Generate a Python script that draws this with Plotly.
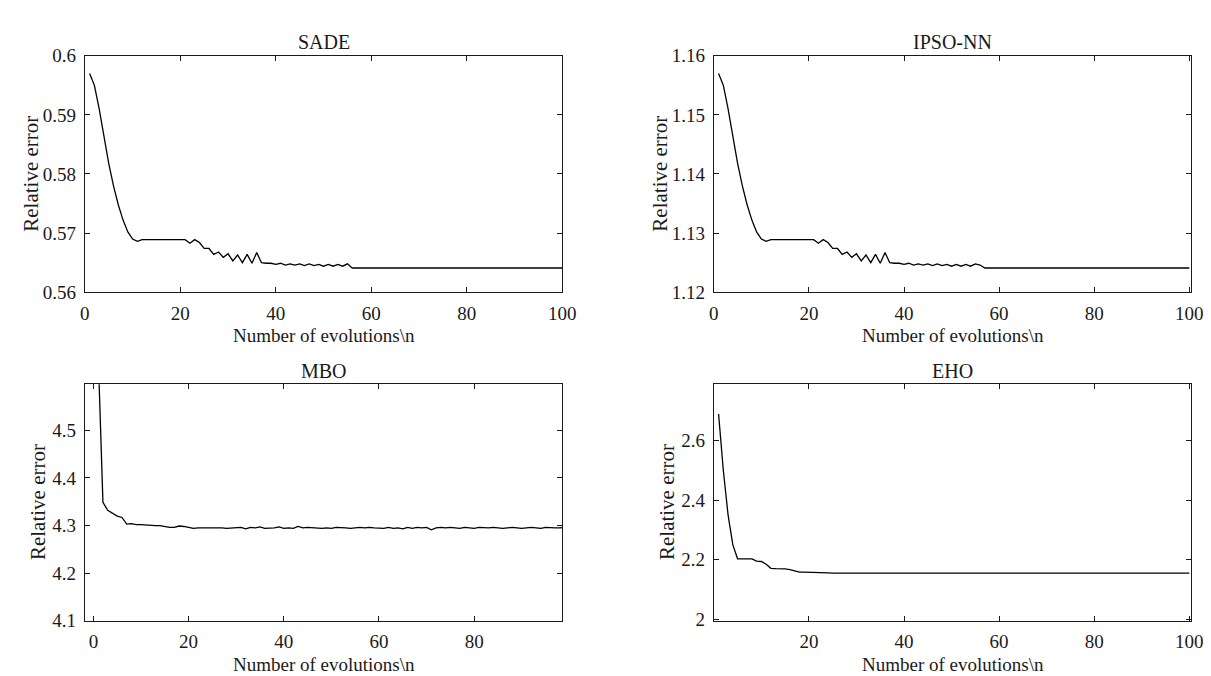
import plotly.graph_objects as go

# ---------------- data ----------------
sade_err = [0.5970, 0.5950, 0.5910, 0.5862, 0.5818, 0.5780, 0.5748, 0.5722, 0.5702, 0.5690,
            0.5686, 0.5689, 0.5689, 0.5689, 0.5689, 0.5689, 0.5689, 0.5689, 0.5689, 0.5689,
            0.5689, 0.5683, 0.5689, 0.5684, 0.5674, 0.5674, 0.5664, 0.5668, 0.5659, 0.5665,
            0.5653, 0.5663, 0.5650, 0.5664, 0.5649, 0.5667, 0.5650, 0.5649, 0.5649, 0.5647,
            0.5649, 0.5646, 0.5648, 0.5646, 0.5648, 0.5645, 0.5648, 0.5645, 0.5647, 0.5644,
            0.5647, 0.5644, 0.5647, 0.5644, 0.5648, 0.5641, 0.5641, 0.5641, 0.5641, 0.5641,
            0.5641, 0.5641, 0.5641, 0.5641, 0.5641, 0.5641, 0.5641, 0.5641, 0.5641, 0.5641,
            0.5641, 0.5641, 0.5641, 0.5641, 0.5641, 0.5641, 0.5641, 0.5641, 0.5641, 0.5641,
            0.5641, 0.5641, 0.5641, 0.5641, 0.5641, 0.5641, 0.5641, 0.5641, 0.5641, 0.5641,
            0.5641, 0.5641, 0.5641, 0.5641, 0.5641, 0.5641, 0.5641, 0.5641, 0.5641, 0.5641]

ipso_err = [1.1570, 1.1550, 1.1510, 1.1462, 1.1418, 1.1380, 1.1348, 1.1322, 1.1302, 1.1290,
            1.1286, 1.1289, 1.1289, 1.1289, 1.1289, 1.1289, 1.1289, 1.1289, 1.1289, 1.1289,
            1.1289, 1.1283, 1.1289, 1.1284, 1.1274, 1.1274, 1.1264, 1.1268, 1.1259, 1.1265,
            1.1253, 1.1263, 1.1250, 1.1264, 1.1249, 1.1267, 1.1250, 1.1249, 1.1249, 1.1247,
            1.1249, 1.1246, 1.1248, 1.1246, 1.1248, 1.1245, 1.1248, 1.1245, 1.1247, 1.1244,
            1.1247, 1.1244, 1.1247, 1.1244, 1.1248, 1.1246, 1.1241, 1.1241, 1.1241, 1.1241,
            1.1241, 1.1241, 1.1241, 1.1241, 1.1241, 1.1241, 1.1241, 1.1241, 1.1241, 1.1241,
            1.1241, 1.1241, 1.1241, 1.1241, 1.1241, 1.1241, 1.1241, 1.1241, 1.1241, 1.1241,
            1.1241, 1.1241, 1.1241, 1.1241, 1.1241, 1.1241, 1.1241, 1.1241, 1.1241, 1.1241,
            1.1241, 1.1241, 1.1241, 1.1241, 1.1241, 1.1241, 1.1241, 1.1241, 1.1241, 1.1241]

mbo_err = [4.660, 4.349, 4.332, 4.326, 4.320, 4.317, 4.303, 4.304, 4.302, 4.302,
           4.301, 4.301, 4.300, 4.300, 4.298, 4.296, 4.296, 4.299, 4.298, 4.296,
           4.294, 4.295, 4.295, 4.295, 4.296, 4.295, 4.295, 4.294, 4.295, 4.296,
           4.296, 4.293, 4.296, 4.295, 4.297, 4.294, 4.294, 4.295, 4.297, 4.294,
           4.295, 4.294, 4.298, 4.295, 4.296, 4.295, 4.295, 4.294, 4.295, 4.294,
           4.296, 4.296, 4.295, 4.294, 4.295, 4.296, 4.295, 4.296, 4.295, 4.295,
           4.294, 4.296, 4.294, 4.295, 4.293, 4.296, 4.294, 4.296, 4.295, 4.296,
           4.291, 4.295, 4.296, 4.295, 4.296, 4.295, 4.294, 4.296, 4.295, 4.294,
           4.296, 4.295, 4.295, 4.296, 4.295, 4.294, 4.295, 4.296, 4.295, 4.294,
           4.295, 4.296, 4.295, 4.294, 4.296, 4.295, 4.295, 4.295, 4.296]

eho_err = [2.690, 2.500, 2.350, 2.250, 2.203, 2.203, 2.203, 2.203, 2.195, 2.194,
           2.185, 2.171, 2.170, 2.170, 2.169, 2.167, 2.162, 2.158, 2.158, 2.158,
           2.157, 2.157, 2.157, 2.156, 2.155, 2.155, 2.155, 2.155, 2.155, 2.155,
           2.155, 2.155, 2.155, 2.155, 2.155, 2.155, 2.155, 2.155, 2.155, 2.155,
           2.155, 2.155, 2.155, 2.155, 2.155, 2.155, 2.155, 2.155, 2.155, 2.155,
           2.155, 2.155, 2.155, 2.155, 2.155, 2.155, 2.155, 2.155, 2.155, 2.155,
           2.155, 2.155, 2.155, 2.155, 2.155, 2.155, 2.155, 2.155, 2.155, 2.155,
           2.155, 2.155, 2.155, 2.155, 2.155, 2.155, 2.155, 2.155, 2.155, 2.155,
           2.155, 2.155, 2.155, 2.155, 2.155, 2.155, 2.155, 2.155, 2.155, 2.155,
           2.155, 2.155, 2.155, 2.155, 2.155, 2.155, 2.155, 2.155, 2.155, 2.155]

titles = ["SADE", "IPSO-NN", "MBO", "EHO"]
x_title = "Number of evolutions\\n"
y_title = "Relative error"

sade_yticks = [0.56, 0.57, 0.58, 0.59, 0.60]
sade_ylabels = ["0.56", "0.57", "0.58", "0.59", "0.6"]
ipso_yticks = [1.12, 1.13, 1.14, 1.15, 1.16]
ipso_ylabels = ["1.12", "1.13", "1.14", "1.15", "1.16"]
mbo_yticks = [4.1, 4.2, 4.3, 4.4, 4.5]
mbo_ylabels = ["4.1", "4.2", "4.3", "4.4", "4.5"]
eho_yticks = [2.0, 2.2, 2.4, 2.6]
eho_ylabels = ["2", "2.2", "2.4", "2.6"]
x_ticks_full = [0, 20, 40, 60, 80, 100]
x_ticks_mbo = [0, 20, 40, 60, 80]
x_ticks_eho = [20, 40, 60, 80, 100]

# ---------------- figure ----------------
W, H = 1211, 676
FONT = "Liberation Serif, Times New Roman, serif"
INK = "#1a1a1a"

# pixel boxes of the four plot areas: (left, right, top, bottom)
boxes = [(73, 558, 39, 283), (712, 1197, 39, 283), (73, 558, 378, 622), (712, 1197, 378, 622)]

fig = go.Figure()
series = [sade_err, ipso_err, mbo_err, eho_err]
for i, ys in enumerate(series):
    xs = list(range(1, len(ys) + 1))
    fig.add_trace(go.Scatter(x=xs, y=ys, mode="lines",
                             line=dict(color="black", width=1.3),
                             xaxis="x" if i == 0 else f"x{i+1}",
                             yaxis="y" if i == 0 else f"y{i+1}",
                             showlegend=False, hoverinfo="skip"))

xranges = [[0, 100], [0, 100.4], [-1.8, 98.5], [0.0, 100.4]]
yranges = [[0.56, 0.6], [1.12, 1.16], [4.1, 4.597], [1.995, 2.79]]
xticks = [x_ticks_full, x_ticks_full, x_ticks_mbo, x_ticks_eho]
yticks = [(sade_yticks, sade_ylabels), (ipso_yticks, ipso_ylabels),
          (mbo_yticks, mbo_ylabels), (eho_yticks, eho_ylabels)]

axis_common = dict(showline=True, linecolor=INK, linewidth=1, mirror="ticks",
                   ticks="inside", ticklen=5, tickwidth=1, tickcolor=INK,
                   showgrid=False, zeroline=False,
                   tickfont=dict(family=FONT, size=19, color=INK))

layout = dict(width=W, height=H, margin=dict(l=0, r=0, t=0, b=0),
              paper_bgcolor="white", plot_bgcolor="white", showlegend=False)

annotations = []
for i, (l, r, t, b) in enumerate(boxes):
    xk = "xaxis" if i == 0 else f"xaxis{i+1}"
    yk = "yaxis" if i == 0 else f"yaxis{i+1}"
    xa = "x" if i == 0 else f"x{i+1}"
    ya = "y" if i == 0 else f"y{i+1}"
    layout[xk] = dict(domain=[l / W, r / W], range=xranges[i], anchor=ya,
                      tickmode="array", tickvals=xticks[i],
                      ticktext=[str(v) for v in xticks[i]],
                      ticklabelstandoff=4, **axis_common)
    layout[yk] = dict(domain=[1 - b / H, 1 - t / H], range=yranges[i], anchor=xa,
                      tickmode="array", tickvals=yticks[i][0], ticktext=yticks[i][1],
                      ticklabelstandoff=4, **axis_common)
    cx = (l + r) / 2
    # subplot title
    annotations.append(dict(text=titles[i], x=cx / W, y=1 - (t - 14) / H,
                            xref="paper", yref="paper", showarrow=False,
                            xanchor="center", yanchor="middle",
                            font=dict(family=FONT, size=20, color=INK)))
    # x-axis title
    annotations.append(dict(text=x_title, x=cx / W, y=1 - (b + 45) / H,
                            xref="paper", yref="paper", showarrow=False,
                            xanchor="center", yanchor="middle",
                            font=dict(family=FONT, size=19, color=INK)))
    # y-axis title
    ytx = l - 55 if i in (0, 1) else l - 47
    annotations.append(dict(text=y_title, x=ytx / W, y=1 - ((t + b) / 2) / H,
                            xref="paper", yref="paper", showarrow=False,
                            xanchor="center", yanchor="middle", textangle=-90,
                            font=dict(family=FONT, size=21, color=INK)))

layout["annotations"] = annotations
fig.update_layout(**layout)

fig.write_html("out.html")
